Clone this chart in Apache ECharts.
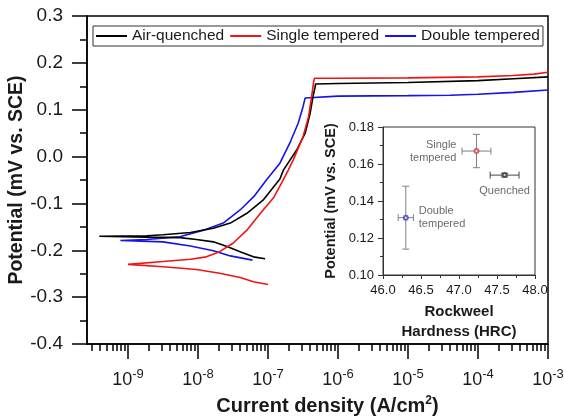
<!DOCTYPE html>
<html>
<head>
<meta charset="utf-8">
<script src="https://cdn.jsdelivr.net/npm/echarts@6/dist/echarts.min.js"></script>
<style>
  html, body { margin: 0; padding: 0; background: #fff; }
  #chart { width: 564px; height: 417px; }
</style>
</head>
<body>
<div id="chart"></div>
<script>
// polarization curves, current density in A/cm2, potential in V vs SCE
// each curve runs from the cathodic end through Ecorr to the anodic plateau
const aqCurrent = [9.1e-8, 6.2e-8, 4.0e-8, 2.6e-8, 1.66e-8, 9.5e-9, 5.5e-9, 1.86e-9, 3.9e-10,
  1.86e-9, 3.16e-9, 7.8e-9, 1.66e-8, 2.9e-8, 5.0e-8, 8.5e-8, 1.48e-7, 1.66e-7, 2.57e-7,
  3.4e-7, 4.0e-7, 4.4e-7, 4.7e-7, 4.8e-7, 1e-6, 1e-5, 1e-4, 3.2e-4, 1e-3];
const aqPotential = [-0.218, -0.214, -0.203, -0.192, -0.182, -0.177, -0.173, -0.172, -0.170,
  -0.169, -0.167, -0.162, -0.153, -0.142, -0.121, -0.093, -0.048, -0.029, 0.014,
  0.050, 0.092, 0.128, 0.148, 0.155, 0.156, 0.158, 0.162, 0.166, 0.170];

const stCurrent = [1.0e-7, 6.2e-8, 4.0e-8, 2.04e-8, 9.5e-9, 3.16e-9, 1.0e-9,
  3.16e-9, 7.8e-9, 1.32e-8, 2.04e-8, 3.16e-8, 5.0e-8, 7.8e-8, 1.2e-7, 1.58e-7, 1.95e-7,
  2.3e-7, 3.16e-7, 3.8e-7, 4.2e-7, 4.5e-7, 4.6e-7, 1e-6, 1e-5, 1e-4, 3.2e-4, 6.3e-4, 1e-3];
const stPotential = [-0.273, -0.267, -0.258, -0.249, -0.241, -0.235, -0.230,
  -0.224, -0.219, -0.214, -0.203, -0.185, -0.157, -0.121, -0.088, -0.055, -0.029,
  -0.007, 0.042, 0.085, 0.128, 0.160, 0.167, 0.167, 0.168, 0.170, 0.173, 0.176, 0.180];

const dtCurrent = [6.0e-8, 2.9e-8, 1.66e-8, 7.8e-9, 3.16e-9, 7.8e-10,
  1.86e-9, 5.5e-9, 1.2e-8, 2.3e-8, 4.0e-8, 6.3e-8, 9.5e-8, 1.48e-7, 2.04e-7,
  2.7e-7, 3.16e-7, 3.4e-7, 3.5e-7, 1e-6, 1e-5, 4e-5, 1e-4, 3.2e-4, 1e-3];
const dtPotential = [-0.221, -0.212, -0.201, -0.191, -0.182, -0.179,
  -0.177, -0.171, -0.157, -0.142, -0.114, -0.085, -0.050, -0.014, 0.028,
  0.071, 0.106, 0.125, 0.129, 0.129, 0.130, 0.131, 0.133, 0.137, 0.142];

const curveNames = ['Air-quenched', 'Single tempered', 'Double tempered'];
const xMajorExp = [-9, -8, -7, -6, -5, -4, -3];
const yTicks = [-0.4, -0.3, -0.2, -0.1, 0.0, 0.1, 0.2, 0.3];

// inset: hardness vs passivation potential
const insetNames = ['Single\ntempered', 'Quenched', 'Double\ntempered'];
const hardness = [47.23, 47.6, 46.3];
const hardnessErr = [0.19, 0.19, 0.1];
const insetPotential = [0.167, 0.154, 0.131];
const insetPotentialErr = [0.009, 0.001, 0.017];

const font = 'Liberation Sans, Arial, Helvetica, sans-serif';
const ink = '#1a1a1a';
const xMin = Math.log10(2.6e-10);
const xMax = -3;

const xMinor = [];
for (let n = -10; n <= -4; n++) {
  for (let k = 2; k <= 9; k++) {
    const v = n + Math.log10(k);
    if (v > xMin && v < xMax) xMinor.push(v);
  }
}

function toPairs(cur, pot) {
  return cur.map((c, i) => [Math.log10(c), pot[i]]);
}

const chart = echarts.init(document.getElementById('chart'));

const labelPos = ['left', 'bottom', 'right'];
const markerColors = ['#d04040', '#333333', '#4040c8'];

const option = {
  animation: false,
  backgroundColor: '#fff',
  textStyle: { fontFamily: font, color: ink },
  grid: [
    { left: 87, top: 16, right: 16, bottom: 73, show: true, borderColor: '#000', borderWidth: 1.5, outerBoundsMode: 'none' },
    { left: 383, top: 127, width: 152, height: 148, show: true, borderColor: '#333', borderWidth: 1, outerBoundsMode: 'none' }
  ],
  legend: {
    data: curveNames,
    left: 93,
    top: 26,
    icon: 'rect',
    itemWidth: 31,
    itemHeight: 2,
    itemGap: 6,
    padding: [2, 3, 2, 3],
    borderColor: '#333',
    borderWidth: 1,
    textStyle: { fontFamily: font, fontSize: 15.5, color: ink }
  },
  xAxis: [
    {
      type: 'value',
      gridIndex: 0,
      position: 'bottom',
      min: xMin,
      max: xMax,
      splitLine: { show: false },
      axisLine: { onZero: false, lineStyle: { color: '#000', width: 1.5 } },
      axisTick: { customValues: xMajorExp, length: 15, lineStyle: { color: '#000', width: 1.5 } },
      axisLabel: {
        customValues: xMajorExp,
        margin: 24,
        formatter: v => '{b|10}{s|' + Math.round(v) + '}',
        rich: {
          b: { fontFamily: font, fontSize: 18, color: ink },
          s: { fontFamily: font, fontSize: 13, color: ink, padding: [0, 0, 12, 0] }
        }
      },
      name: '{a|Current density (A/cm}{s|2}{a|)}',
      nameLocation: 'middle',
      nameGap: 50,
      nameTextStyle: {
        padding: [0, 0, 0, 20],
        rich: {
          a: { fontFamily: font, fontSize: 20, fontWeight: 'bold', color: ink },
          s: { fontFamily: font, fontSize: 12, fontWeight: 'bold', color: ink, padding: [0, 0, 12, 0] }
        }
      }
    },
    {
      type: 'value',
      gridIndex: 0,
      position: 'bottom',
      min: xMin,
      max: xMax,
      splitLine: { show: false },
      axisLine: { show: false, onZero: false },
      axisTick: { customValues: xMinor, length: 7, lineStyle: { color: '#000', width: 1.5 } },
      axisLabel: { show: false }
    },
    {
      type: 'value',
      gridIndex: 1,
      position: 'bottom',
      min: 46,
      max: 48,
      interval: 0.5,
      splitLine: { show: false },
      axisLine: { onZero: false, lineStyle: { color: '#333', width: 1 } },
      axisTick: { length: 4, lineStyle: { color: '#333' } },
      minorTick: { show: true, splitNumber: 2, length: 3, lineStyle: { color: '#333' } },
      axisLabel: { fontSize: 13, color: ink, margin: 9, formatter: v => v.toFixed(1) },
      name: 'Rockweel\nHardness (HRC)',
      nameLocation: 'middle',
      nameGap: 27,
      nameTextStyle: { fontSize: 15, fontWeight: 'bold', color: ink, lineHeight: 20 }
    }
  ],
  yAxis: [
    {
      type: 'value',
      gridIndex: 0,
      min: yTicks[0],
      max: yTicks[yTicks.length - 1],
      interval: 0.1,
      splitLine: { show: false },
      axisLine: { onZero: false, lineStyle: { color: '#000', width: 1.5 } },
      axisTick: { length: 15, lineStyle: { color: '#000', width: 1.5 } },
      minorTick: { show: true, splitNumber: 2, length: 7, lineStyle: { color: '#000', width: 1.5 } },
      axisLabel: { fontSize: 19, color: ink, margin: 24, formatter: v => v.toFixed(1) },
      name: 'Potential (mV vs. SCE)',
      nameLocation: 'middle',
      nameRotate: 90,
      nameGap: 60,
      nameMoveOverlap: false,
      nameTextStyle: { fontSize: 19.5, fontWeight: 'bold', color: ink }
    },
    {
      type: 'value',
      gridIndex: 1,
      min: 0.10,
      max: 0.18,
      interval: 0.02,
      splitLine: { show: false },
      axisLine: { onZero: false, lineStyle: { color: '#333', width: 1 } },
      axisTick: { length: 5, lineStyle: { color: '#333' } },
      minorTick: { show: true, splitNumber: 2, length: 3, lineStyle: { color: '#333' } },
      axisLabel: { fontSize: 13, color: ink, margin: 9, formatter: v => v.toFixed(2) },
      name: 'Potential (mV vs. SCE)',
      nameLocation: 'middle',
      nameRotate: 90,
      nameGap: 45,
      nameTextStyle: { fontSize: 14.5, fontWeight: 'bold', color: ink }
    }
  ],
  series: [
    {
      name: curveNames[0], type: 'line', xAxisIndex: 0, yAxisIndex: 0,
      showSymbol: false, color: '#000', lineStyle: { width: 1.6 },
      data: toPairs(aqCurrent, aqPotential), z: 3
    },
    {
      name: curveNames[1], type: 'line', xAxisIndex: 0, yAxisIndex: 0,
      showSymbol: false, color: '#f01414', lineStyle: { width: 1.6 },
      data: toPairs(stCurrent, stPotential), z: 4
    },
    {
      name: curveNames[2], type: 'line', xAxisIndex: 0, yAxisIndex: 0,
      showSymbol: false, color: '#1414e6', lineStyle: { width: 1.6 },
      data: toPairs(dtCurrent, dtPotential), z: 2
    },
    {
      type: 'custom',
      xAxisIndex: 2,
      yAxisIndex: 1,
      silent: true,
      data: hardness.map((h, i) => [h, insetPotential[i], hardnessErr[i], insetPotentialErr[i]]),
      renderItem: (params, api) => {
        const x = api.value(0), y = api.value(1), ex = api.value(2), ey = api.value(3);
        const l = api.coord([x - ex, y]), r = api.coord([x + ex, y]);
        const t = api.coord([x, y + ey]), b = api.coord([x, y - ey]);
        const cap = 3.5;
        const style = { stroke: params.dataIndex === 1 ? '#444' : '#808080', lineWidth: 1 };
        const seg = (x1, y1, x2, y2) => ({ type: 'line', shape: { x1, y1, x2, y2 }, style });
        return {
          type: 'group',
          children: [
            seg(l[0], l[1], r[0], r[1]),
            seg(l[0], l[1] - cap, l[0], l[1] + cap),
            seg(r[0], r[1] - cap, r[0], r[1] + cap),
            seg(t[0], t[1], b[0], b[1]),
            seg(t[0] - cap, t[1], t[0] + cap, t[1]),
            seg(b[0] - cap, b[1], b[0] + cap, b[1])
          ]
        };
      },
      z: 5
    },
    {
      type: 'scatter',
      xAxisIndex: 2,
      yAxisIndex: 1,
      symbol: 'emptyCircle',
      symbolSize: 4,
      z: 6,
      data: hardness.map((h, i) => ({
        value: [h, insetPotential[i]],
        name: insetNames[i],
        itemStyle: { color: markerColors[i], borderColor: markerColors[i], borderWidth: 1 },
        label: {
          show: true,
          formatter: '{b}',
          position: labelPos[i],
          distance: i === 1 ? 6 : (i === 0 ? 17 : 10),
          align: i === 0 ? 'right' : (i === 1 ? 'center' : 'left'),
          fontSize: 11,
          lineHeight: 13,
          color: '#444'
        }
      }))
    }
  ]
};

chart.setOption(option);
</script>
</body>
</html>
